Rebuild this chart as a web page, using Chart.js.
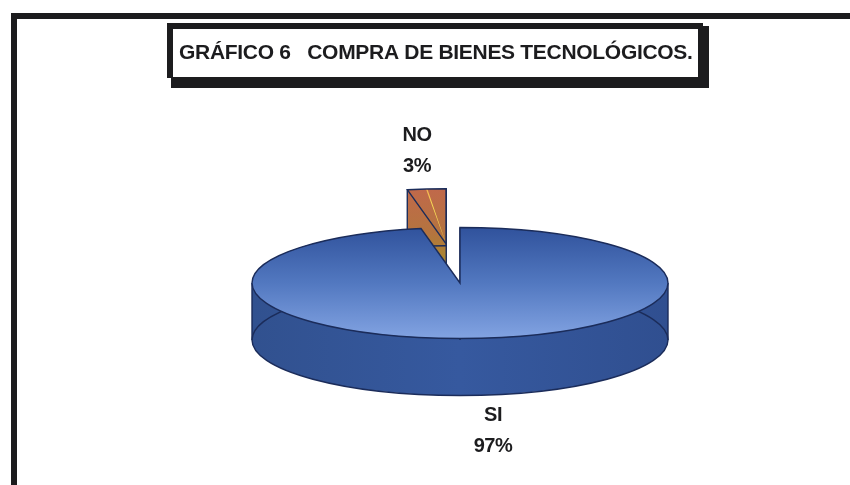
<!DOCTYPE html>
<html>
<head>
<meta charset="utf-8">
<title>Gráfico 6</title>
<script src="https://cdn.jsdelivr.net/npm/chart.js@4"></script>
<style>
  html, body { margin: 0; padding: 0; background: #fff; }
  canvas { display: block; }
</style>
</head>
<body>
<canvas id="myChart" width="850" height="485"></canvas>
<script>
const chartTitle = 'GRÁFICO 6   COMPRA DE BIENES TECNOLÓGICOS.';
const answers = ['NO', 'SI'];
const percents = [3, 97];

const ink = '#1c1c1e';
const labelFont = 'bold 20px "Liberation Sans"';
const pieRadius = 208;
const squash = 55.5 / 208;
const pieDepth = 57;
const sliceOffsets = [584, 0];
const edgeColor = '#1b2c5a';
const labelSpots = [{ x: 417, y: 135 }, { x: 493, y: 415 }];
const lineGap = 31;

// pie plane -> screen, squashed around the middle of the chart area
const tilt = (ctx, chart) => {
  const cy = (chart.chartArea.top + chart.chartArea.bottom) / 2;
  ctx.translate(0, cy);
  ctx.scale(1, squash);
  ctx.translate(0, -cy);
};

// ArcElement moves an exploded slice by offset / 4 and also grows its radius by this much
const radiusGrowth = (arc) => {
  const fix = 1 - Math.sin(Math.min(Math.PI, arc.circumference));
  return (arc.options.offset || 0) / 4 * fix;
};

const arcCenter = (arc) => {
  const shift = (arc.options.offset || 0) / 4;
  const mid = (arc.startAngle + arc.endAngle) / 2;
  return { x: arc.x + Math.cos(mid) * shift, y: arc.y + Math.sin(mid) * shift };
};

const sectorPath = (ctx, arc) => {
  const c = arcCenter(arc);
  ctx.beginPath();
  ctx.moveTo(c.x, c.y);
  ctx.arc(c.x, c.y, pieRadius, arc.startAngle, arc.endAngle);
  ctx.closePath();
};

const toScreen = (chart, x, y) => {
  const cy = (chart.chartArea.top + chart.chartArea.bottom) / 2;
  return { x, y: cy + (y - cy) * squash };
};

const wallFill = (ctx, arc, index) => {
  if (index === 0) {
    const g = ctx.createLinearGradient(0, 190, 0, 262);
    g.addColorStop(0, '#c0694a');
    g.addColorStop(0.6, '#b4743f');
    g.addColorStop(1, '#a8882e');
    return g;
  }
  const g = ctx.createLinearGradient(arc.x - pieRadius, 0, arc.x + pieRadius, 0);
  g.addColorStop(0, '#31518f');
  g.addColorStop(0.5, '#36599f');
  g.addColorStop(1, '#304f90');
  return g;
};

const drawWall = (ctx, chart, arc, index) => {
  const fill = wallFill(ctx, arc, index);

  for (let d = pieDepth; d >= 0; d--) {
    ctx.save();
    ctx.translate(0, d);
    tilt(ctx, chart);
    sectorPath(ctx, arc);
    ctx.restore();
    ctx.fillStyle = fill;
    ctx.fill();
  }

  // lower rim
  ctx.save();
  ctx.translate(0, pieDepth);
  tilt(ctx, chart);
  const c = arcCenter(arc);
  ctx.beginPath();
  ctx.arc(c.x, c.y, pieRadius, arc.startAngle, arc.endAngle);
  ctx.restore();
  ctx.strokeStyle = edgeColor;
  ctx.lineWidth = 1.4;
  ctx.stroke();

  // upright edges at the corners and at the far left and right of the disc
  const r = pieRadius;
  const uprights = [
    { x: c.x, y: c.y },
    { x: c.x + Math.cos(arc.startAngle) * r, y: c.y + Math.sin(arc.startAngle) * r },
  ];
  if (index === 1) {
    uprights.push({ x: c.x - r, y: c.y }, { x: c.x + r, y: c.y });
  } else {
    uprights.push({ x: c.x + Math.cos(arc.endAngle) * r, y: c.y + Math.sin(arc.endAngle) * r });
  }
  uprights.forEach((p) => {
    const s = toScreen(chart, p.x, p.y);
    ctx.beginPath();
    ctx.moveTo(s.x, s.y);
    ctx.lineTo(s.x, s.y + pieDepth);
    ctx.stroke();
  });
};

const tiltedPie = {
  id: 'tiltedPie',
  afterDatasetUpdate(chart, args) {
    // keep every slice the same size once it is exploded
    args.meta.data.forEach((arc) => {
      arc.outerRadius = pieRadius - radiusGrowth(arc);
    });
  },
  beforeDatasetDraw(chart, args) {
    const ctx = chart.ctx;
    args.meta.data.forEach((arc, i) => drawWall(ctx, chart, arc, i));
    ctx.save();
    tilt(ctx, chart);
  },
  afterDatasetDraw(chart, args) {
    const ctx = chart.ctx;
    ctx.restore();
    // rim of each face, stroked untilted so the line keeps an even weight
    args.meta.data.forEach((arc) => {
      ctx.save();
      tilt(ctx, chart);
      sectorPath(ctx, arc);
      ctx.restore();
      ctx.strokeStyle = edgeColor;
      ctx.lineWidth = 1.4;
      ctx.stroke();
    });
  },
};

const sheet = {
  id: 'sheet',
  beforeDraw(chart) {
    const ctx = chart.ctx;
    ctx.save();
    ctx.fillStyle = ink;
    // outer frame, open at the right and the bottom
    ctx.fillRect(11, 13, 839, 6);
    ctx.fillRect(11, 13, 6, 472);
    // title box with its heavy lower right edge
    ctx.fillRect(167, 23, 536, 55);
    ctx.fillRect(171, 77, 538, 11);
    ctx.fillRect(698, 26, 11, 62);
    ctx.fillStyle = '#fff';
    ctx.fillRect(173, 29, 525, 48);
    ctx.restore();
  },
  afterDraw(chart) {
    const ctx = chart.ctx;
    ctx.save();
    ctx.fillStyle = ink;
    ctx.textBaseline = 'middle';
    ctx.font = 'bold 21px "Liberation Sans"';
    ctx.letterSpacing = '-0.3px';
    ctx.textAlign = 'left';
    ctx.fillText(chartTitle, 179, 53);
    ctx.letterSpacing = '-0.5px';
    ctx.font = labelFont;
    ctx.textAlign = 'center';
    answers.forEach((answer, i) => {
      ctx.fillText(answer, labelSpots[i].x, labelSpots[i].y);
      ctx.fillText(percents[i] + '%', labelSpots[i].x, labelSpots[i].y + lineGap);
    });
    ctx.restore();
  },
};

const faceFill = (context) => {
  const chart = context.chart;
  if (!chart.chartArea) return '#4a72b8';
  const ctx = chart.ctx;
  const cy = (chart.chartArea.top + chart.chartArea.bottom) / 2;
  if (context.dataIndex === 0) {
    const g = ctx.createLinearGradient(0, cy - 354, 0, cy - 146);
    g.addColorStop(0, '#e56e3f');
    g.addColorStop(0.55, '#f09a4c');
    g.addColorStop(1, '#f8dc55');
    return g;
  }
  const g = ctx.createLinearGradient(0, cy - pieRadius, 0, cy + pieRadius);
  g.addColorStop(0, '#30529c');
  g.addColorStop(0.5, '#5278c0');
  g.addColorStop(1, '#82a3e2');
  return g;
};

new Chart(document.getElementById('myChart'), {
  type: 'pie',
  data: {
    labels: answers,
    datasets: [{
      label: chartTitle,
      data: percents,
      backgroundColor: faceFill,
      borderWidth: 0,
      offset: sliceOffsets,
      radius: pieRadius,
      clip: false,
    }],
  },
  options: {
    responsive: false,
    animation: false,
    rotation: -(percents[0] / 100) * 360,
    layout: { padding: { left: 70, top: 81 } },
    plugins: {
      legend: { display: false },
      tooltip: { enabled: false },
    },
  },
  plugins: [sheet, tiltedPie],
});
</script>
</body>
</html>
